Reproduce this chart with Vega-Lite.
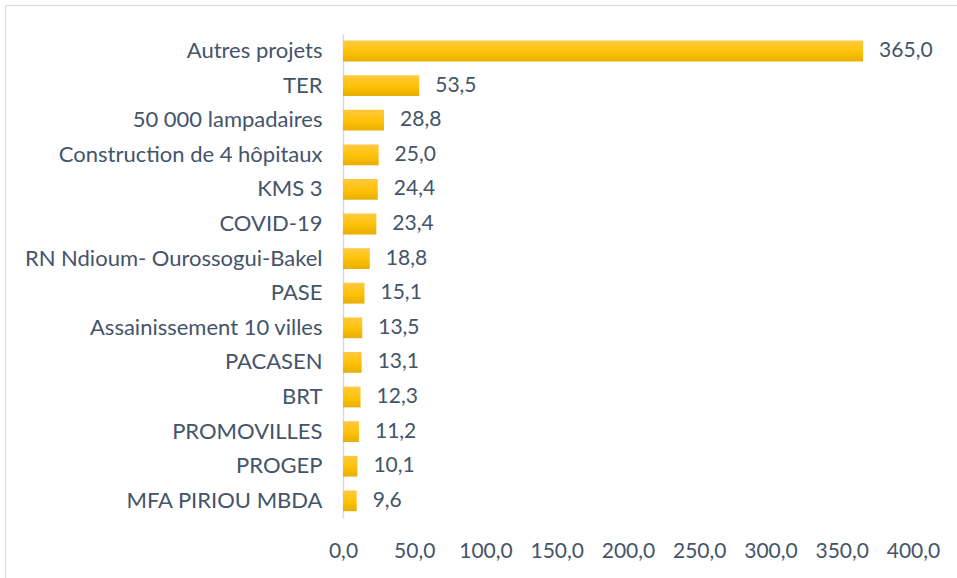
{
  "$schema": "https://vega.github.io/schema/vega-lite/v6.json",
  "autosize": "none",
  "padding": {"left": 5, "top": 5, "right": 0, "bottom": 0},
  "width": 952,
  "height": 573,
  "data": {"values": [
    {"projet": "Autres projets", "valeur": 365.0},
    {"projet": "TER", "valeur": 53.5},
    {"projet": "50 000 lampadaires", "valeur": 28.8},
    {"projet": "Construction de 4 hôpitaux", "valeur": 25.0},
    {"projet": "KMS 3", "valeur": 24.4},
    {"projet": "COVID-19", "valeur": 23.4},
    {"projet": "RN Ndioum- Ourossogui-Bakel", "valeur": 18.8},
    {"projet": "PASE", "valeur": 15.1},
    {"projet": "Assainissement 10 villes", "valeur": 13.5},
    {"projet": "PACASEN", "valeur": 13.1},
    {"projet": "BRT", "valeur": 12.3},
    {"projet": "PROMOVILLES", "valeur": 11.2},
    {"projet": "PROGEP", "valeur": 10.1},
    {"projet": "MFA PIRIOU MBDA", "valeur": 9.6}
  ]},
  "encoding": {
    "y": {
      "field": "projet", "type": "nominal", "sort": null, "title": null,
      "scale": {"range": [28.7, 513.1], "paddingInner": 0.4, "paddingOuter": 0.2},
      "axis": {
        "offset": -338, "ticks": false, "domainColor": "#D9D9D9", "domainWidth": 1.5,
        "labelFont": "Lato", "labelFontSize": 22, "labelColor": "#44546A", "labelPadding": 21, "labelLimit": 500
      }
    },
    "x": {
      "field": "valeur", "type": "quantitative", "title": null,
      "scale": {"domain": [-237.19, 430.88], "nice": false, "zero": false},
      "axis": {
        "values": [0, 50, 100, 150, 200, 250, 300, 350, 400], "format": ".1f",
        "offset": -40, "domain": false, "ticks": false, "grid": false,
        "labelFont": "Lato", "labelFontSize": 21, "labelColor": "#44546A", "labelPadding": 2
      }
    }
  },
  "layer": [
    {
      "mark": {"type": "bar", "color": {"gradient": "linear", "x1": 0, "y1": 0, "x2": 0, "y2": 1,
        "stops": [{"offset": 0, "color": "#FFC940"}, {"offset": 0.5, "color": "#FFC30A"}, {"offset": 1, "color": "#E8AE00"}]}}
    },
    {
      "mark": {"type": "text", "align": "left", "baseline": "middle", "dx": 16, "font": "Lato", "fontSize": 21, "color": "#44546A"},
      "encoding": {"text": {"field": "valeur", "type": "quantitative", "format": ".1f"}}
    }
  ],
  "config": {
    "locale": {"number": {"decimal": ",", "thousands": " ", "grouping": [3], "currency": ["", " €"]}},
    "view": {"stroke": "#D9D9D9", "strokeWidth": 1}
  }
}
